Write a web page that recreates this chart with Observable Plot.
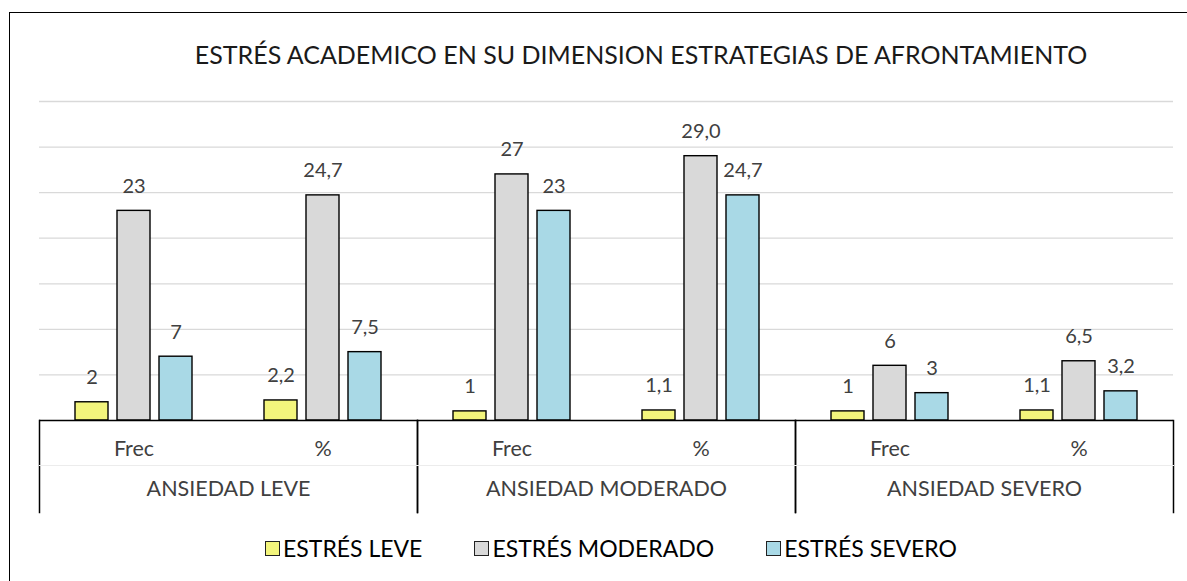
<!DOCTYPE html>
<html>
<head>
<meta charset="utf-8">
<script src="https://cdn.jsdelivr.net/npm/d3@7"></script>
<script src="https://cdn.jsdelivr.net/npm/@observablehq/plot@0.6"></script>
<style>
  html, body { margin: 0; padding: 0; background: #fff; }
  #root { position: relative; width: 1187px; height: 581px; overflow: hidden; font-family: Lato, "Open Sans", sans-serif; }
  #border { position: absolute; left: 9px; top: 12px; width: 1200px; height: 600px; border: 1.5px solid #000; box-sizing: border-box; }
  #title { position: absolute; left: 0; top: 39px; width: 1282px; text-align: center; font-size: 25px; color: #1a1a1a; white-space: nowrap; }
  #chart { position: absolute; left: 0; top: 80px; }
  #chart g[aria-label$="tick label"] { font-size: 21.5px; }
  #legend { position: absolute; left: 0; top: 534px; width: 1222px; display: flex; justify-content: center; gap: 52px; font-size: 23px; color: #000; }
  .item { display: flex; align-items: center; gap: 3px; }
  .sw { width: 13px; height: 13px; border: 1px solid #222; display: inline-block; }
</style>
</head>
<body>
<div id="root">
  <div id="border"></div>
  <div id="title">ESTRÉS ACADEMICO EN SU DIMENSION ESTRATEGIAS DE AFRONTAMIENTO</div>
  <div id="chart"></div>
  <div id="legend"></div>
</div>
<script>
// ---- data ----
const groups = ["ANSIEDAD LEVE", "ANSIEDAD MODERADO", "ANSIEDAD SEVERO"];
const subs = ["Frec", "%"];
const seriesNames = ["ESTRÉS LEVE", "ESTRÉS MODERADO", "ESTRÉS SEVERO"];
// values in order: LEVE Frec, LEVE %, MODERADO Frec, MODERADO %, SEVERO Frec, SEVERO %
const estresLeve = [2, 2.2, 1, 1.1, 1, 1.1];
const estresModerado = [23, 24.7, 27, 29.0, 6, 6.5];
const estresSevero = [7, 7.5, 23, 24.7, 3, 3.2];
const gridTicks = [5, 10, 15, 20, 25, 30, 35];
const colors = ["#f3f57c", "#d9d9d9", "#a9d9e6"];

const seriesValues = [estresLeve, estresModerado, estresSevero];
const data = groups.flatMap((g, gi) => subs.flatMap((s, si) => seriesNames.map((n, ni) => ({
  group: g, sub: s, series: n, si: ni, value: seriesValues[ni][gi * 2 + si]
}))));
const fmt = d => d.sub === "%" ? d.value.toFixed(1).replace(".", ",") : String(d.value);

// ---- layout ----
const W = 1187, mL = 39, mR = 14, mT = 21, frameH = 319, mB = 96;
const band = (W - mL - mR) / (groups.length * subs.length);
const barW = 33, barStep = 42;
const inset = (band - barW) / 2;

const marks = [
  Plot.ruleY(gridTicks, {stroke: "#d9d9d9", strokeWidth: 1.3}),
];
seriesNames.forEach((n, i) => {
  const rows = data.filter(d => d.series === n);
  marks.push(Plot.barY(rows, {fx: "group", x: "sub", y: "value", fill: "series", stroke: "#000", strokeWidth: 1.4,
    insetLeft: inset, insetRight: inset, dx: (i - 1) * barStep}));
  marks.push(Plot.text(rows, {fx: "group", x: "sub", y: "value", text: fmt, dx: (i - 1) * barStep, dy: -18,
    lineAnchor: "bottom", fill: "#404040", fontSize: 20}));
});
marks.push(Plot.ruleY([0], {stroke: "#000", strokeWidth: 1.5}));
marks.push(Plot.frame({anchor: "left", stroke: "#000", strokeWidth: 1.5, insetTop: frameH, insetBottom: -92}));
marks.push(Plot.frame({anchor: "right", stroke: "#000", strokeWidth: 1.5, insetTop: frameH, insetBottom: -92}));
marks.push(Plot.frame({anchor: "bottom", stroke: "#ececec", strokeWidth: 1, insetBottom: -45}));

const chart = Plot.plot({
  width: W, height: mT + frameH + mB,
  marginLeft: mL, marginRight: mR, marginTop: mT, marginBottom: mB,
  style: {fontFamily: "Lato, 'Open Sans', sans-serif", fontSize: "20px", color: "#404040", background: "transparent", overflow: "visible"},
  fx: {domain: groups, padding: 0, axis: "bottom", tickSize: 0, tickPadding: 60, label: null},
  x: {domain: subs, padding: 0, axis: "bottom", tickSize: 0, tickPadding: 20, label: null},
  y: {domain: [0, 35], axis: null},
  color: {domain: seriesNames, range: colors},
  marks
});
document.getElementById("chart").appendChild(chart);

// legend
const legend = document.getElementById("legend");
seriesNames.forEach((n, i) => {
  const it = document.createElement("div");
  it.className = "item";
  it.innerHTML = `<span class="sw" style="background:${colors[i]}"></span><span>${n}</span>`;
  legend.appendChild(it);
});
</script>
</body>
</html>
